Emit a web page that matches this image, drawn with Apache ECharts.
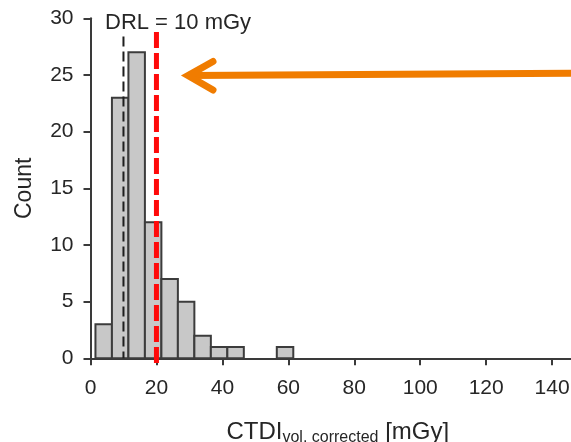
<!DOCTYPE html>
<html>
<head>
<meta charset="utf-8">
<script src="https://cdn.jsdelivr.net/npm/echarts@6/dist/echarts.min.js"></script>
<style>
  html, body { margin: 0; padding: 0; background: #ffffff; }
  #chart { width: 571px; height: 442px; }
</style>
</head>
<body>
<div id="chart"></div>
<script>
// Histogram of corrected CTDIvol values (5 mGy bins)
const binCenters = [4, 9, 14, 19, 24, 29, 34, 39, 44, 49, 54, 59];
const counts = [3, 23, 27, 12, 7, 5, 2, 1, 1, 0, 0, 1];
const binWidth = 5;

// Reference lines: DRL and the red limit line
const drlValue = 10;
const limitValue = 20;
const drlLabel = 'DRL = 10 mGy';

const yTicks = [0, 5, 10, 15, 20, 25, 30];
const xTicks = [0, 20, 40, 60, 80, 100, 120, 140];

const textColor = '#262626';
const axisColor = '#3a3a3a';
const font = 'Liberation Sans, Arial, sans-serif';

const histData = binCenters.map((c, i) => [c, counts[i]]);

const chart = echarts.init(document.getElementById('chart'), null, { renderer: 'canvas' });

function dashedLine(color, width, dash) {
  return function (params, api) {
    const x = api.value(0);
    const p1 = api.coord([x, api.value(1)]);
    const p2 = api.coord([x, api.value(2)]);
    return {
      type: 'line',
      shape: { x1: p1[0], y1: p1[1], x2: p2[0], y2: p2[1] },
      style: { stroke: color, lineWidth: width, lineDash: dash, lineCap: 'butt' }
    };
  };
}

chart.setOption({
  animation: false,
  backgroundColor: '#ffffff',
  grid: { left: 90.5, top: 18.3, bottom: 83.7, right: -14.1, outerBoundsMode: 'none', containLabel: false },
  xAxis: {
    type: 'value',
    min: 0,
    max: 150,
    interval: 20,
    splitLine: { show: false },
    axisLine: { show: true, onZero: false, lineStyle: { color: axisColor, width: 2 } },
    axisTick: { show: true, length: 7, lineStyle: { color: axisColor, width: 2 } },
    axisLabel: {
      color: textColor, fontSize: 21, fontFamily: font, margin: 19,
      formatter: v => (xTicks.indexOf(v) >= 0 ? String(v) : '')
    },
    name: '{a|CTDI}{b|vol, corrected}{a| [mGy]}',
    nameLocation: 'middle',
    nameGap: 49,
    nameTextStyle: {
      color: textColor,
      fontFamily: font,
      rich: {
        a: { fontSize: 24, fontFamily: font, color: textColor, lineHeight: 26 },
        b: { fontSize: 16, fontFamily: font, color: textColor, verticalAlign: 'bottom', padding: [26, 0, 0, 0], lineHeight: 18 }
      }
    }
  },
  yAxis: {
    type: 'value',
    min: 0,
    max: 30,
    interval: 5,
    splitLine: { show: false },
    axisLine: { show: true, lineStyle: { color: axisColor, width: 2 } },
    axisTick: { show: true, length: 7, lineStyle: { color: axisColor, width: 2 } },
    axisLabel: {
      color: textColor, fontSize: 21, fontFamily: font, margin: 17,
      formatter: v => (yTicks.indexOf(v) >= 0 ? String(v) : '')
    },
    name: 'Count',
    nameLocation: 'middle',
    nameGap: 54,
    nameTextStyle: { color: textColor, fontSize: 23, fontFamily: font }
  },
  series: [
    {
      type: 'custom',
      name: 'Count',
      data: histData,
      encode: { x: 0, y: 1 },
      z: 2,
      renderItem: function (params, api) {
        const c = api.value(0);
        const v = api.value(1);
        if (!v) return null;
        const tl = api.coord([c - binWidth / 2, v]);
        const br = api.coord([c + binWidth / 2, 0]);
        return {
          type: 'rect',
          shape: { x: tl[0], y: tl[1], width: br[0] - tl[0], height: br[1] - tl[1] },
          style: { fill: '#c8c8c8', stroke: '#3c3c3c', lineWidth: 2 }
        };
      }
    },
    {
      type: 'custom',
      name: 'DRL',
      data: [[drlValue, 28.4, 0]],
      z: 3,
      silent: true,
      renderItem: dashedLine('#1e1e1e', 2, [10, 5])
    },
    {
      type: 'custom',
      name: 'Limit',
      data: [[limitValue, 28.8, -0.6]],
      z: 4,
      silent: true,
      renderItem: dashedLine('#ff0a0a', 5, [16, 5])
    }
  ],
  graphic: [
    {
      type: 'text',
      left: 105,
      top: 11.5,
      style: { text: drlLabel, fill: textColor, fontSize: 22, fontFamily: font }
    },
    {
      type: 'group',
      z: 10,
      children: [
        {
          type: 'line',
          shape: { x1: 575, y1: 73.3, x2: 190, y2: 75.6 },
          style: { stroke: '#f07c00', lineWidth: 7, lineCap: 'butt' }
        },
        {
          type: 'polyline',
          shape: { points: [[213, 61.5], [188, 75.6], [213, 90]] },
          style: { stroke: '#f07c00', lineWidth: 7, lineCap: 'round', lineJoin: 'miter', fill: null }
        }
      ]
    }
  ]
});
</script>
</body>
</html>
